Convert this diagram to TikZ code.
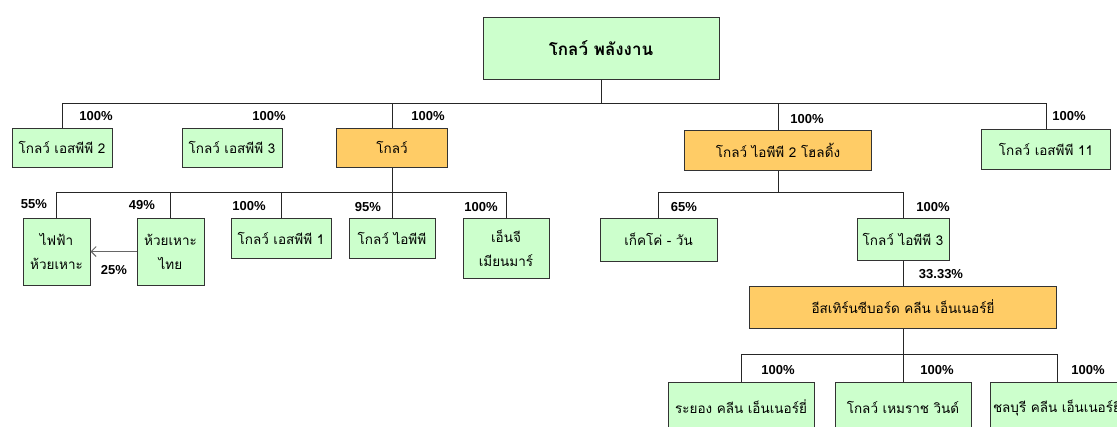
\documentclass[tikz,border=0pt]{standalone}
\usepackage{fontspec}
\setmainfont{Liberation Sans}
\newfontfamily\thaifont[Script=Thai]{Loma}
\usetikzlibrary{arrows,arrows.meta}
\definecolor{boxgreen}{RGB}{204,255,204}
\definecolor{boxorange}{RGB}{255,204,102}

\begin{document}
\begin{tikzpicture}[x=1pt,y=-1pt,line width=1pt,>={Straight Barb[length=5pt,width=10pt]},
	green node/.style={rectangle,draw=black!80,fill=boxgreen,inner sep=0pt,align=center,
		font=\thaifont\fontsize{13.5}{24}\selectfont},
	orange node/.style={green node,fill=boxorange},
	pct node/.style={inner sep=0pt,font=\bfseries\fontsize{13}{13}\selectfont}]
	
	\clip (0,0) rectangle (1117,426);
	
	\node[green node,minimum width=236,minimum height=62,font=\thaifont\bfseries\fontsize{17}{20}\selectfont] (glowenergy) at (601,48) {โกลว์ พลังงาน};
	
	\node[green node,minimum width=100,minimum height=39] (spp2) at (62,147.5) {โกลว์ เอสพีพี 2};
	\node[green node,minimum width=100,minimum height=39] (spp3) at (232,147.5) {โกลว์ เอสพีพี 3};
	\node[orange node,minimum width=111,minimum height=39] (glow) at (392,147.5) {โกลว์};
	\node[orange node,minimum width=187,minimum height=40] (ipp2h) at (778,150) {โกลว์ ไอพีพี 2 โฮลดิ้ง};
	\node[green node,minimum width=129,minimum height=40] (spp11) at (1046,149) {โกลว์ เอสพีพี 11};
	
	\node[green node,minimum width=67,minimum height=67] (hhpower) at (56.5,251.5) {ไฟฟ้า\\ห้วยเหาะ};
	\node[green node,minimum width=67,minimum height=67] (hhthai) at (170.5,251.5) {ห้วยเหาะ\\ไทย};
	\node[green node,minimum width=100,minimum height=40] (spp1) at (281,238) {โกลว์ เอสพีพี 1};
	\node[green node,minimum width=86,minimum height=40] (ipp) at (392,238) {โกลว์ ไอพีพี};
	\node[green node,minimum width=86,minimum height=60] (myanmar) at (506,248) {เอ็นจี\\เมียนมาร์};
	\node[green node,minimum width=117,minimum height=43] (gheco) at (658.5,239.5) {เก็คโค่ - วัน};
	\node[green node,minimum width=92,minimum height=42] (ipp3) at (903,239) {โกลว์ ไอพีพี 3};
	\node[orange node,minimum width=307,minimum height=42] (esb) at (903,307) {อีสเทิร์นซีบอร์ด คลีน เอ็นเนอร์ยี่};
	
	\node[green node,minimum width=146,minimum height=50] (rayong) at (741,407) {ระยอง คลีน เอ็นเนอร์ยี่};
	\node[green node,minimum width=136,minimum height=50] (hemaraj) at (903,407) {โกลว์ เหมราช วินด์};
	\node[green node,minimum width=134,minimum height=50] (chon) at (1057,407) {ชลบุรี คลีน เอ็นเนอร์ยี่};
	
	\coordinate (bus1) at (601,103);
	\coordinate (bus2) at (392,192);
	\coordinate (bus3) at (778,192);
	\coordinate (bus4) at (903,354);
	
	\draw[black!85]
	(glowenergy) -- (bus1)
	(bus1) -| (spp2)
	(bus1) -| (glow)
	(bus1) -| (ipp2h)
	(bus1) -| (spp11)
	(glow) -- (bus2)
	(bus2) -| (hhpower)
	(bus2) -| (hhthai)
	(bus2) -| (spp1)
	(bus2) -- (ipp)
	(bus2) -| (myanmar)
	(ipp2h) -- (bus3)
	(bus3) -| (gheco)
	(bus3) -| (ipp3)
	(ipp3) -- (esb)
	(esb) -- (bus4)
	(bus4) -| (rayong)
	(bus4) -- (hemaraj)
	(bus4) -| (chon);
	\draw[->,black!60] (hhthai) -- (hhpower);
	
	\node[pct node] (p1) at (96,116) {100\%};
	\node[pct node] (p2) at (269,116) {100\%};
	\node[pct node] (p3) at (428,116) {100\%};
	\node[pct node] (p4) at (807,119) {100\%};
	\node[pct node] (p5) at (1069,116) {100\%};
	\node[pct node] (p6) at (34,204) {55\%};
	\node[pct node] (p7) at (142,205) {49\%};
	\node[pct node] (p8) at (249,206) {100\%};
	\node[pct node] (p9) at (368,207) {95\%};
	\node[pct node] (p10) at (481,207) {100\%};
	\node[pct node] (p11) at (114,270) {25\%};
	\node[pct node] (p12) at (684,207) {65\%};
	\node[pct node] (p13) at (933,207) {100\%};
	\node[pct node] (p14) at (941,274) {33.33\%};
	\node[pct node] (p15) at (778,370) {100\%};
	\node[pct node] (p16) at (937,370) {100\%};
	\node[pct node] (p17) at (1088,370) {100\%};
\end{tikzpicture}
\end{document}
